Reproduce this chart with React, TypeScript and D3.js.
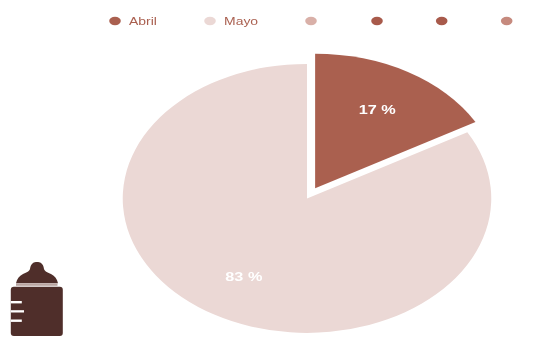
import React from "react";
import * as d3 from "d3";

const categories = ["Abril", "Mayo", "", "", "", ""];
const values = [16.8, 83.2, 0, 0, 0, 0];
const colors = ["#aa6050", "#ebd8d5", "#d9b0a8", "#a85a4c", "#a85a4c", "#c68a7e"];
const labelTexts = ["17 %", "83 %"];

const W = 554;
const H = 337;
const STRETCH = 1.37; // the picture is stretched horizontally
const CX = 307;
const CY = 198.4;
const R = 134.5;
const EXPLODE = 11.8;
const legendX = [115, 210, 311, 377, 441.7, 506.7];
const labelRadius = [0.68, 0.67];
const labelShiftX = [-1, -1];

export default function App() {
  const pie = d3.pie<number>().sort(null).startAngle(0).endAngle(2 * Math.PI);
  const arcs = pie(values).slice(0, 2);
  const arc = d3.arc<d3.PieArcDatum<number>>().innerRadius(0).outerRadius(R);

  return (
    <svg
      width={W}
      height={H}
      style={{ position: "absolute", left: 0, top: 0, background: "#fff" }}
    >
      <defs>
        <filter id="soft" x="0" y="0" width="100%" height="100%" filterUnits="userSpaceOnUse">
          <feGaussianBlur stdDeviation="0.55" />
        </filter>
      </defs>

      <g filter="url(#soft)">
        <rect width={W} height={H} fill="#fff" />
        {arcs.map((a, i) => {
          const mid = (a.startAngle + a.endAngle) / 2;
          const off = i === 0 ? EXPLODE : 0;
          const dx = Math.sin(mid) * off;
          const dy = -Math.cos(mid) * off;
          return (
            <path
              key={i}
              d={arc(a) ?? ""}
              fill={colors[i]}
              transform={`translate(${CX + dx * STRETCH},${CY + dy}) scale(${STRETCH},1)`}
            />
          );
        })}

        {arcs.map((a, i) => {
          const mid = (a.startAngle + a.endAngle) / 2;
          const off = i === 0 ? EXPLODE : 0;
          const r = R * labelRadius[i] + off;
          const x = CX + Math.sin(mid) * r * STRETCH + labelShiftX[i];
          const y = CY - Math.cos(mid) * r;
          return (
            <text
              key={i}
              transform={`translate(${x},${y}) scale(1.25,1)`}
              textAnchor="middle"
              dominantBaseline="central"
              fontFamily="Liberation Sans"
              fontWeight="bold"
              fontSize={13}
              fill="#fff"
            >
              {labelTexts[i]}
            </text>
          );
        })}

        {categories.map((c, i) => (
          <g key={i}>
            <ellipse cx={legendX[i]} cy={21} rx={5.8} ry={4.2} fill={colors[i]} />
            {c && (
              <text
                transform={`translate(${legendX[i] + 14},25) scale(1.27,1)`}
                fontFamily="Liberation Sans"
                fontSize={11}
                fill="#aa6050"
              >
                {c}
              </text>
            )}
          </g>
        ))}

        {/* baby bottle icon */}
        <g>
          <path
            d="M16 283.2 C17 279 19 276 23 274 C26 272.5 29 272 30 269 C30.5 266 31 264.5 33 263 C35 261.6 39 261.6 41 263 C43 264.5 43.5 266 44 269 C45 272 48 272.5 51 274 C55 276 57 279 58 283.2 Z"
            fill="#4f2f29"
          />
          <rect x={16} y={283.4} width={41.5} height={2.4} fill="#b9a5a1" />
          <rect x={10.8} y={286.7} width={52} height={49.3} rx={3} fill="#4f2f29" />
          <rect x={10.8} y={301} width={11} height={2.4} fill="#fff" />
          <rect x={10.8} y={310.2} width={13.2} height={2.3} fill="#fff" />
          <rect x={10.8} y={319.5} width={11} height={2.4} fill="#fff" />
        </g>
      </g>
    </svg>
  );
}
